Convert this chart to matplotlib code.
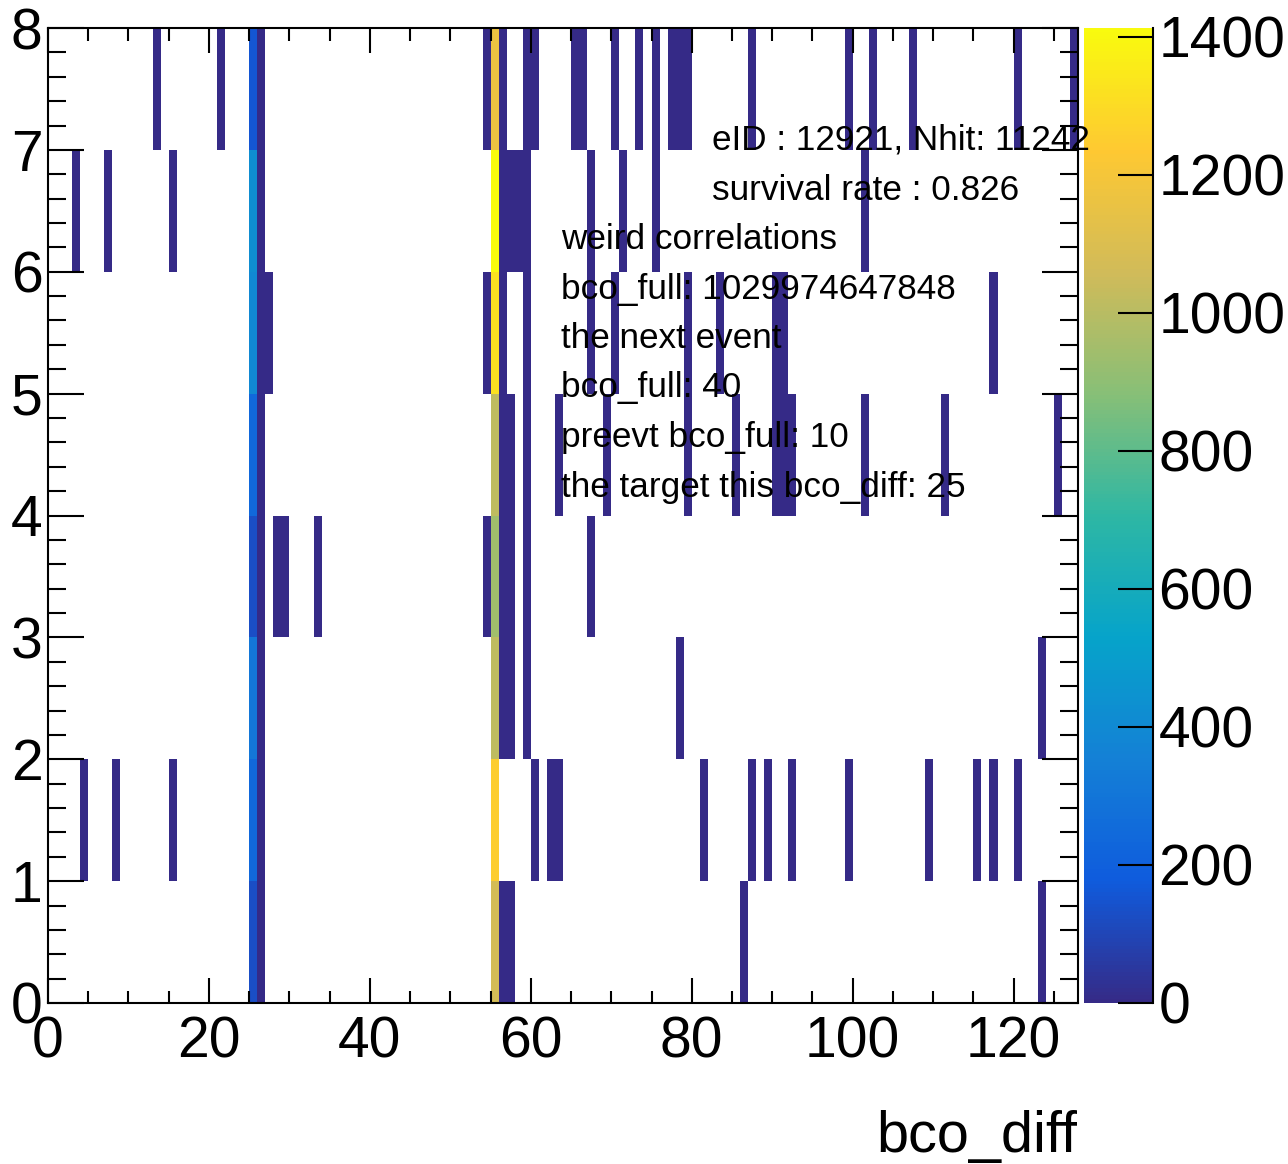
import numpy as np
import matplotlib
matplotlib.use("Agg")
import matplotlib.pyplot as plt
from matplotlib.colors import LinearSegmentedColormap, Normalize
from matplotlib.ticker import MultipleLocator

plt.rcParams['font.family'] = ['Liberation Sans', 'DejaVu Sans']

# ---------------- data ----------------
n_xbins = 128
n_ybins = 8
x_range = (0, 128)
y_range = (0, 8)

# counts in the two busy bco_diff columns, indexed by y bin 0..7
bin25_counts = [130, 233, 310, 130, 233, 390, 420, 160]
bin55_counts = [1071, 1250, 1018, 942, 1018, 1320, 1413, 1166]

# bco_diff bins holding a handful of entries, per y bin
low_y0 = [26, 56, 57, 86, 123]
low_y1 = [4, 8, 15, 26, 60, 62, 63, 81, 87, 89, 92, 99, 109, 115, 117, 120]
low_y2 = [26, 56, 57, 59, 78, 123]
low_y3 = [26, 28, 29, 33, 54, 56, 57, 59, 67]
low_y4 = [26, 56, 57, 59, 63, 69, 79, 85, 90, 91, 92, 101, 111, 125]
low_y5 = [26, 27, 54, 56, 59, 67, 70, 79, 83, 90, 91, 117]
low_y6 = [3, 7, 15, 26, 56, 57, 58, 59, 67, 71, 75, 101]
low_y7 = [13, 21, 26, 54, 56, 59, 60, 65, 66, 70, 73, 75, 77, 78, 79, 87, 99, 102, 107, 120, 127]
low_count = 1

annot_lines_right = ["eID : 12921, Nhit: 11242", "survival rate : 0.826"]
annot_lines_left = ["weird correlations", "bco_full: 1029974647848", "the next event",
                    "bco_full: 40", "preevt bco_full: 10", "the target this bco_diff: 25"]
x_title = "bco_diff"
z_ticks = [0, 200, 400, 600, 800, 1000, 1200, 1400]

# ---------------- build histogram ----------------
H = np.zeros((n_ybins, n_xbins))
for iy, lst in enumerate([low_y0, low_y1, low_y2, low_y3, low_y4, low_y5, low_y6, low_y7]):
    for ix in lst:
        H[iy, ix] = low_count
for iy in range(n_ybins):
    H[iy, 25] = bin25_counts[iy]
    H[iy, 55] = bin55_counts[iy]
Hm = np.ma.masked_where(H <= 0, H)

xedges = np.linspace(x_range[0], x_range[1], n_xbins + 1)
yedges = np.linspace(y_range[0], y_range[1], n_ybins + 1)

# ROOT kBird palette
stops = [0.0, 0.125, 0.25, 0.375, 0.5, 0.625, 0.75, 0.875, 1.0]
red = [0.2082, 0.0592, 0.0780, 0.0232, 0.1802, 0.5301, 0.8186, 0.9956, 0.9764]
green = [0.1664, 0.3599, 0.5041, 0.6419, 0.7178, 0.7492, 0.7328, 0.7862, 0.9832]
blue = [0.5293, 0.8684, 0.8385, 0.7914, 0.6425, 0.4662, 0.3499, 0.1968, 0.0539]
bird = LinearSegmentedColormap.from_list("bird", list(zip(stops, zip(red, green, blue))), N=255)

W, Hpx = 1288, 1164
fig = plt.figure(figsize=(W / 100, Hpx / 100), dpi=100)

def fx(px):
    return px / W

def fy(py):
    return 1 - py / Hpx

ax_l, ax_r, ax_t, ax_b = 48, 1078, 28, 1003
ax = fig.add_axes([fx(ax_l), fy(ax_b), fx(ax_r - ax_l), (ax_b - ax_t) / Hpx])
zmax = max(bin55_counts)
norm = Normalize(vmin=0, vmax=zmax)
mesh = ax.pcolormesh(xedges, yedges, Hm, cmap=bird, norm=norm, shading='flat')
ax.set_xlim(*x_range)
ax.set_ylim(*y_range)

for s in ax.spines.values():
    s.set_linewidth(1.5)

lab_fs = 41
ax.xaxis.set_major_locator(MultipleLocator(20))
ax.xaxis.set_minor_locator(MultipleLocator(5))
ax.yaxis.set_major_locator(MultipleLocator(1))
ax.yaxis.set_minor_locator(MultipleLocator(0.2))
ax.tick_params(axis='x', which='major', direction='in', length=18, width=1.5,
               top=True, bottom=True, labelsize=lab_fs, pad=9)
ax.tick_params(axis='x', which='minor', direction='in', length=9, width=1.5, top=True, bottom=True)
ax.tick_params(axis='y', which='major', direction='in', length=26, width=1.5,
               left=True, right=True, labelsize=lab_fs, pad=4)
ax.tick_params(axis='y', which='minor', direction='in', length=13, width=1.5, left=True, right=True)
for lab in ax.get_yticklabels():
    lab.set_verticalalignment('center_baseline')

# colour bar
cax = fig.add_axes([fx(1084), fy(ax_b), fx(1153 - 1084), (ax_b - ax_t) / Hpx])
cb = fig.colorbar(mesh, cax=cax, ticks=z_ticks)
cb.outline.set_visible(False)
cax.spines['right'].set_visible(True)
cax.spines['right'].set_linewidth(1.5)
cax.tick_params(which='major', direction='in', length=25, width=1.5, labelsize=lab_fs, pad=4)
cax.tick_params(which='minor', length=0)
for lab in cax.get_yticklabels():
    lab.set_verticalalignment('center_baseline')

# annotations
fs = 25.3
base0 = 150
step = 49.5
for i, t in enumerate(annot_lines_right):
    fig.text(fx(712), fy(base0 + i * step), t, fontsize=fs, va='baseline', ha='left')
for i, t in enumerate(annot_lines_left):
    fig.text(fx(561), fy(base0 + (i + 2) * step), t, fontsize=fs, va='baseline', ha='left')

fig.text(fx(1077), fy(1152), x_title, fontsize=41.5, ha='right', va='baseline')

fig.savefig("out.png", dpi=100)
